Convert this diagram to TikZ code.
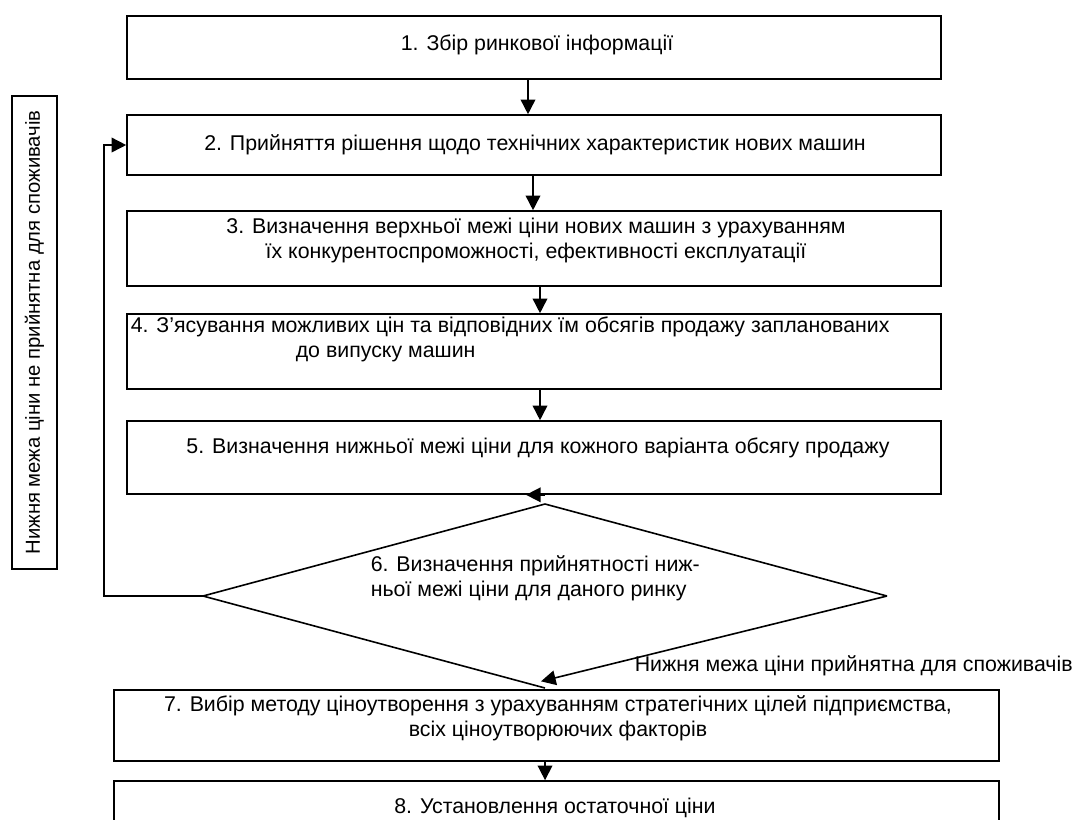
\documentclass[tikz,border=0pt]{standalone}
\usepackage{fontspec}
\setmainfont{Liberation Sans}
\usetikzlibrary{arrows.meta,shapes.geometric}

\begin{document}
\begin{tikzpicture}[x=0.75pt,y=-0.75pt,
  font=\fontsize{16}{18.75}\selectfont,
  line width=1.2pt,
  stepbox/.style={draw, rectangle, inner sep=0pt},
  wide/.style={stepbox, minimum width=610.5pt},
  wider/.style={stepbox, minimum width=663.75pt},
  txt/.style={inner sep=0pt, align=center},
  arr/.style={-{Triangle[length=11pt,width=11pt]}}]
\useasboundingbox (0,0) rectangle (1073,819);

% process boxes
\node[wide, minimum height=47.25pt] (b1) at (534,47.5) {};
\node[wide, minimum height=45pt]    (b2) at (534,145) {};
\node[wide, minimum height=56.25pt] (b3) at (534,248.5) {};
\node[wide, minimum height=56.25pt] (b4) at (534,351.5) {};
\node[wide, minimum height=54.75pt] (b5) at (534,457.5) {};
\node[wider, minimum height=53.25pt] (b7) at (556.5,725.5) {};
\node[wider, minimum height=45pt]    (b8) at (556.5,811) {};

% decision shape (outline drawn below so its lower right edge can carry the arrow)
\node[diamond, inner sep=0pt, outer sep=0pt, minimum width=513pt, minimum height=138pt] (dia) at (545,596) {};
\draw[line join=miter] (dia.east) -- (dia.north) -- (dia.west) -- (dia.south);

% box texts
\node[txt] (t1) at (537,45) {1. Збір ринкової інформації};
\node[txt] (t2) at (535,145) {2. Прийняття рішення щодо технічних характеристик нових машин};
\node[txt] (t3) at (536,240.5) {3. Визначення верхньої межі ціни нових машин з урахуванням\\їх конкурентоспроможності, ефективності експлуатації};
\node[txt, align=left, anchor=west] (t4) at (130,339.5) {4. З’ясування можливих цін та відповідних їм обсягів продажу запланованих\\\hspace*{123.75pt}до випуску машин};
\node[txt] (t5) at (538,448) {5. Визначення нижньої межі ціни для кожного варіанта обсягу продажу};
\node[txt, align=left, anchor=west] (t6) at (370,578) {6. Визначення прийнятності ниж-\\ньої межі ціни для даного ринку};
\node[txt] (t7) at (558,718) {7. Вибір методу ціноутворення з урахуванням стратегічних цілей підприємства,\\всіх ціноутворюючих факторів};
\node[txt] (t8) at (555,808) {8. Установлення остаточної ціни};

% side labels
\node[stepbox, rotate=90, minimum width=354.75pt, minimum height=33.75pt,
  font=\fontsize{15.2}{18}\selectfont] (lab) at (34.5,332.5)
  {Нижня межа ціни не прийнятна для споживачів};
\node[txt, anchor=west] (yes) at (634,666) {Нижня межа ціни прийнятна для споживачів};

% connectors
\draw[arr] ([xshift=-4.5pt]b1.south) -- ([xshift=-4.5pt]b2.north);
\draw[arr] ([xshift=-0.75pt]b2.south) -- ([xshift=-0.75pt]b3.north);
\draw[arr] ([xshift=4.5pt]b3.south) -- ([xshift=4.5pt]b4.north);
\draw[arr] ([xshift=4.5pt]b4.south) -- ([xshift=4.5pt]b5.north);
\draw[arr] (dia.north |- b5.south) -- ([xshift=-6pt]b5.south);
\coordinate (fb) at (104,145);
\draw[arr] (dia.west) -- (dia.west -| fb) |- (b2.west);
\draw[arr] (dia.east) -- ([xshift=-3pt,yshift=5pt]dia.south);
\draw[arr] ([xshift=-8.6pt]b7.south) -- ([xshift=-8.6pt]b8.north);
\end{tikzpicture}
\end{document}
